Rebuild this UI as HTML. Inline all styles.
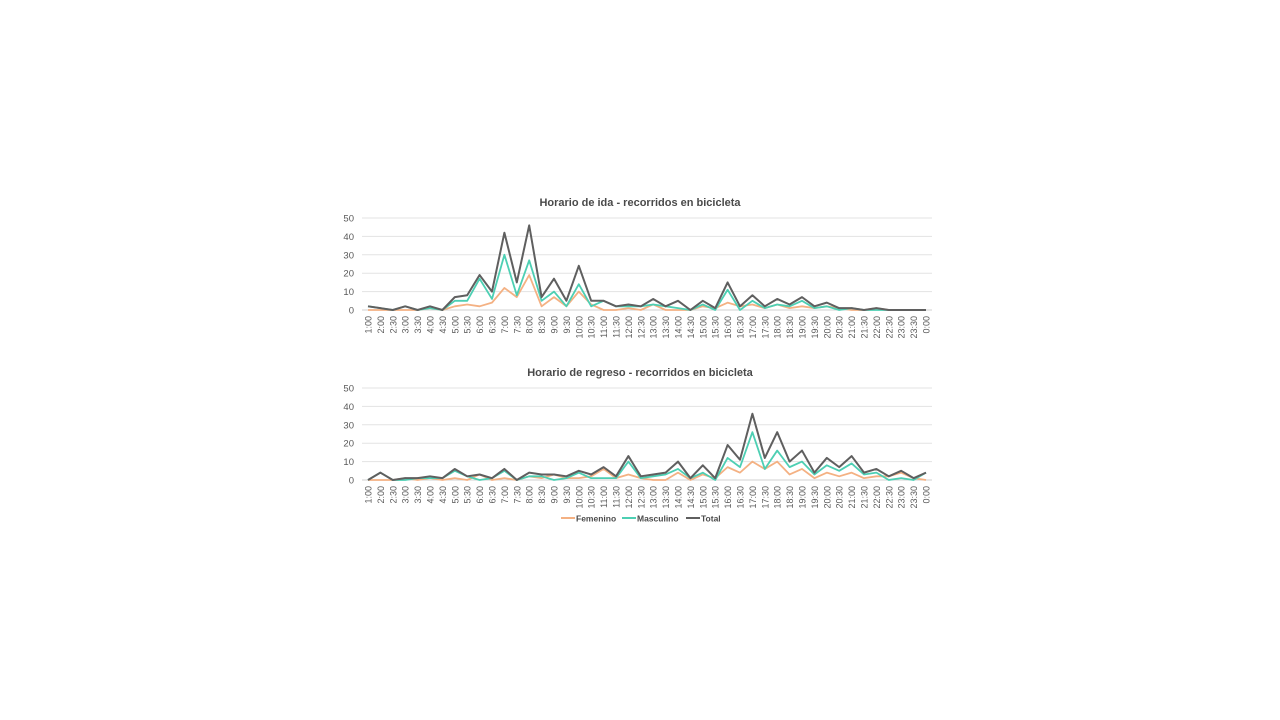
<!DOCTYPE html>
<html><head><meta charset="utf-8"><style>
html,body{margin:0;padding:0;background:#fff;width:1280px;height:720px;overflow:hidden}
svg{font-family:"Liberation Sans",sans-serif}
</style></head><body>
<svg id="s" width="1280" height="720"></svg>
<script>
const categories=["1:00","2:00","2:30","3:00","3:30","4:00","4:30","5:00","5:30","6:00","6:30","7:00","7:30","8:00","8:30","9:00","9:30","10:00","10:30","11:00","11:30","12:00","12:30","13:00","13:30","14:00","14:30","15:00","15:30","16:00","16:30","17:00","17:30","18:00","18:30","19:00","19:30","20:00","20:30","21:00","21:30","22:00","22:30","23:00","23:30","0:00"];
const yTicks=[0,10,20,30,40,50];
const idaFem=[0,0,0,0,0,1,0,2,3,2,4,12,7,19,2,7,2,10,3,0,0,1,0,3,0,0,0,2,1,4,2,3,1,3,1,2,1,2,1,0,0,1,0,0,0,0];
const idaMasc=[2,1,0,2,0,1,0,5,5,17,6,30,8,27,5,10,2,14,2,5,2,2,2,3,2,1,0,3,0,11,0,5,1,3,2,5,1,2,0,1,0,0,0,0,0,0];
const idaTotal=[2,1,0,2,0,2,0,7,8,19,10,42,15,46,7,17,5,24,5,5,2,3,2,6,2,5,0,5,1,15,2,8,2,6,3,7,2,4,1,1,0,1,0,0,0,0];
const regFem=[0,0,0,1,0,1,0,1,0,3,0,1,0,2,1,3,1,1,2,6,1,3,1,0,0,4,0,3,1,7,4,10,6,10,3,6,1,4,2,4,1,2,2,4,1,0];
const regMasc=[0,4,0,0,1,1,1,5,2,0,1,5,0,2,2,0,1,4,1,1,1,10,1,2,3,6,1,4,0,12,7,26,6,16,7,10,3,8,5,9,3,4,0,1,0,4];
const regTotal=[0,4,0,1,1,2,1,6,2,3,1,6,0,4,3,3,2,5,3,7,2,13,2,3,4,10,1,8,1,19,11,36,12,26,10,16,4,12,7,13,4,6,2,5,1,4];
const titles=["Horario de ida - recorridos en bicicleta","Horario de regreso - recorridos en bicicleta"];
const NS="http://www.w3.org/2000/svg";
const svg=document.getElementById('s');
function mk(t,a,p){const e=document.createElementNS(NS,t);for(const k in a)e.setAttribute(k,a[k]);(p||svg).appendChild(e);return e;}
const colors={fem:"#f4b183",masc:"#4dcfb3",total:"#5f5f5f"};
function chart(idx,y0,fem,masc,tot){
  const g=mk('g',{});
  
  
  const x=i=>368+i*(558/45);
  const y=v=>y0-v*1.84;
  const t=mk('text',{x:640,y:y0-104,'text-anchor':'middle','font-size':11,'font-weight':'bold',fill:'#4a4a4a'},g);
  t.textContent=titles[idx];
  
  
  yTicks.forEach(v=>{
    const l=mk('line',{x1:362,x2:932,y1:y(v),y2:y(v),stroke:v?'#e3e3e3':'#d0d0d0','stroke-width':1},g);
    
    
    const tx=mk('text',{x:354,y:y(v)+3.5,'text-anchor':'end','font-size':9.5,fill:'#595959'},g);
    tx.textContent=v;
    
    
  });
  categories.forEach((c,i)=>{
    const tx=mk('text',{transform:`translate(${x(i)+3.5},${y0+6}) rotate(-90)`,'text-anchor':'end','font-size':9,fill:'#595959'},g);
    tx.textContent=c;
    
    
  });
  [['fem',fem],['masc',masc],['total',tot]].forEach(([k,arr])=>{
    const p=mk('polyline',{points:arr.map((v,i)=>x(i)+','+y(v)).join(' '),fill:'none',stroke:colors[k],'stroke-width':k==='total'?2:1.8,'stroke-linejoin':'round'},g);
    
    
  });
}
chart(0,310,idaFem,idaMasc,idaTotal);
chart(1,480,regFem,regMasc,regTotal);
const leg=[["Femenino",561,colors.fem],["Masculino",622,colors.masc],["Total",686,colors.total]];
leg.forEach(([n,lx,c])=>{
  const g=mk('g',{});
  
  
  mk('line',{x1:lx,x2:lx+14,y1:518,y2:518,stroke:c,'stroke-width':2},g);
  const t=mk('text',{x:lx+15,y:521.5,'font-size':8.5,'font-weight':'bold',fill:'#4a4a4a'},g);
  t.textContent=n;
});
</script>
</body></html>
